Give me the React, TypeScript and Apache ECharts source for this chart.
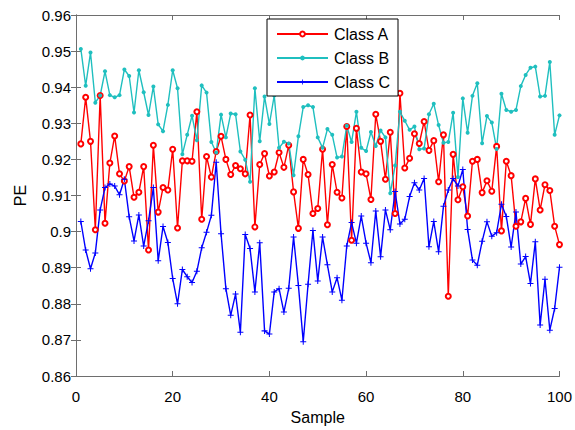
import React, { useEffect, useRef } from "react";
import * as echarts from "echarts";

const classA: number[] = [
  0.9243, 0.9372, 0.925, 0.9005, 0.9377, 0.9023, 0.919, 0.9265, 0.916, 0.914,
  0.918, 0.9095, 0.9109, 0.918, 0.8949, 0.9239, 0.9054, 0.9122, 0.9115, 0.9228,
  0.901, 0.9196, 0.9196, 0.9195, 0.9332, 0.9034, 0.9208, 0.9151, 0.9222, 0.9264,
  0.92, 0.9158, 0.9183, 0.9174, 0.916, 0.9323, 0.9013, 0.9186, 0.9216, 0.9154,
  0.9165, 0.9219, 0.9178, 0.9239, 0.911, 0.9009, 0.92, 0.9158, 0.905, 0.9064,
  0.9228, 0.9019, 0.9186, 0.9109, 0.9093, 0.9291, 0.8976, 0.9286, 0.9165, 0.916,
  0.9089, 0.9325, 0.925, 0.9145, 0.9275, 0.905, 0.9383, 0.9176, 0.9203, 0.9271,
  0.9244, 0.9305, 0.9225, 0.9252, 0.9138, 0.9268, 0.8821, 0.9214, 0.9088, 0.9124,
  0.9043, 0.9195, 0.92, 0.9108, 0.9141, 0.9112, 0.9236, 0.9002, 0.9195, 0.9155,
  0.9015, 0.9027, 0.9092, 0.902, 0.9146, 0.906, 0.913, 0.9114, 0.9015, 0.8964,
];

const classB: number[] = [
  0.9506, 0.9404, 0.9496, 0.9357, 0.9377, 0.9444, 0.9378, 0.9372, 0.9378, 0.9449,
  0.9431, 0.933, 0.9447, 0.9386, 0.9323, 0.9402, 0.9297, 0.9278, 0.9351, 0.9447,
  0.9397, 0.9214, 0.9268, 0.9321, 0.9253, 0.9405, 0.9385, 0.9248, 0.9219, 0.9324,
  0.9261, 0.9327, 0.9325, 0.9222, 0.9199, 0.9138, 0.9397, 0.925, 0.9374, 0.9298,
  0.9377, 0.9232, 0.9249, 0.9244, 0.9156, 0.9264, 0.9345, 0.935, 0.9345, 0.9261,
  0.9232, 0.9284, 0.9268, 0.9205, 0.9208, 0.9293, 0.9248, 0.9332, 0.9232, 0.9223,
  0.9276, 0.9237, 0.928, 0.9261, 0.9106, 0.9183, 0.9332, 0.9307, 0.9282, 0.9291,
  0.9228, 0.923, 0.9325, 0.9354, 0.9295, 0.9246, 0.9248, 0.9329, 0.9151, 0.9369,
  0.9274, 0.9376, 0.9411, 0.9245, 0.932, 0.9302, 0.9229, 0.9382, 0.9337, 0.9332,
  0.9337, 0.9403, 0.9434, 0.9454, 0.9457, 0.9374, 0.9376, 0.947, 0.9268, 0.9322,
];

const classC: number[] = [
  0.9028, 0.8949, 0.8897, 0.8941, 0.906, 0.9122, 0.9132, 0.9126, 0.9102, 0.9145,
  0.9041, 0.8974, 0.9046, 0.896, 0.903, 0.9122, 0.8919, 0.9014, 0.897, 0.887,
  0.88, 0.8895, 0.8875, 0.8859, 0.889, 0.8955, 0.8998, 0.9045, 0.9192, 0.8994,
  0.8842, 0.8768, 0.8827, 0.8721, 0.8992, 0.8953, 0.8833, 0.8969, 0.8725, 0.8716,
  0.8833, 0.8842, 0.8777, 0.8843, 0.8985, 0.8851, 0.8695, 0.8854, 0.9003, 0.8863,
  0.8985, 0.8908, 0.8833, 0.8872, 0.881, 0.896, 0.9025, 0.8968, 0.9043, 0.8968,
  0.8914, 0.9057, 0.893, 0.906, 0.9005, 0.9111, 0.9021, 0.9034, 0.9097, 0.9135,
  0.9115, 0.9147, 0.8958, 0.9028, 0.8944, 0.907, 0.9115, 0.9147, 0.9126, 0.9172,
  0.9006, 0.8921, 0.8907, 0.8973, 0.9027, 0.8987, 0.8997, 0.9076, 0.9042, 0.8957,
  0.9054, 0.891, 0.8931, 0.8856, 0.8972, 0.8741, 0.8868, 0.8727, 0.8787, 0.8901,
];

const seriesNames = ["Class A", "Class B", "Class C"];
const xLabel = "Sample";
const yLabel = "PE";

const FONT = "'Liberation Sans', Arial, Helvetica, sans-serif";
const AXIS_COLOR = "#6e6e6e";
const PLUS = "path://M2.5,0H3.5V2.5H6V3.5H3.5V6H2.5V3.5H0V2.5H2.5Z";

const toPairs = (arr: number[]) => arr.map((v, i) => [i + 1, v]);

export default function App() {
  const ref = useRef<HTMLDivElement>(null);
  useEffect(() => {
    if (!ref.current) return;
    const chart = echarts.init(ref.current, null, { renderer: "svg" });
    const axisCommon = {
      axisLine: { show: true, lineStyle: { color: AXIS_COLOR, width: 1 } },
      axisTick: { show: true, inside: true, length: 5, lineStyle: { color: AXIS_COLOR } },
      splitLine: { show: false },
    };
    chart.setOption({
      animation: false,
      backgroundColor: "#ffffff",
      textStyle: { fontFamily: FONT },
      grid: { left: 76, right: 11, top: 15, bottom: 46, containLabel: false },
      legend: {
        orient: "vertical",
        left: 267,
        top: 19,
        width: 131,
        padding: [7, 8, 6, 9],
        itemGap: 8,
        itemWidth: 51,
        itemHeight: 6,
        backgroundColor: "#ffffff",
        borderColor: "#000000",
        borderWidth: 1,
        borderRadius: 0,
        textStyle: { fontSize: 16, color: "#000", fontFamily: FONT, lineHeight: 16, padding: [0, 0, 0, 1] },
        data: seriesNames,
      },
      xAxis: [
        {
          type: "value",
          position: "bottom",
          min: 0,
          max: 100,
          interval: 20,
          name: xLabel,
          nameLocation: "middle",
          nameGap: 33,
          nameTextStyle: { fontSize: 16, color: "#000", fontFamily: FONT },
          axisLabel: { fontSize: 15, color: "#000", margin: 13, fontFamily: FONT },
          ...axisCommon,
        },
        {
          type: "value",
          position: "top",
          min: 0,
          max: 100,
          interval: 20,
          axisLabel: { show: false },
          ...axisCommon,
        },
      ],
      yAxis: [
        {
          type: "value",
          position: "left",
          min: 0.86,
          max: 0.96,
          interval: 0.01,
          name: yLabel,
          nameLocation: "middle",
          nameGap: 48,
          nameTextStyle: { fontSize: 16, color: "#000", fontFamily: FONT },
          axisLabel: {
            fontSize: 15,
            color: "#000",
            margin: 5,
            fontFamily: FONT,
            formatter: (v: number) => String(parseFloat(v.toFixed(2))),
          },
          ...axisCommon,
        },
        {
          type: "value",
          position: "right",
          min: 0.86,
          max: 0.96,
          interval: 0.01,
          axisLabel: { show: false },
          ...axisCommon,
        },
      ],
      series: [
        {
          name: seriesNames[0],
          type: "line",
          data: toPairs(classA),
          symbol: "emptyCircle",
          symbolSize: 5,
          showAllSymbol: true,
          lineStyle: { color: "#ff0000", width: 1.4 },
          itemStyle: { color: "#ff0000", borderColor: "#ff0000", borderWidth: 1.3 },
        },
        {
          name: seriesNames[1],
          type: "line",
          data: toPairs(classB),
          symbol: "circle",
          symbolSize: 4,
          showAllSymbol: true,
          lineStyle: { color: "#1fbfbf", width: 1.4 },
          itemStyle: { color: "#1fbfbf" },
        },
        {
          name: seriesNames[2],
          type: "line",
          data: toPairs(classC),
          symbol: PLUS,
          symbolSize: 6,
          showAllSymbol: true,
          lineStyle: { color: "#0000ff", width: 1.4 },
          itemStyle: { color: "#0000ff" },
        },
      ],
    });
    return () => chart.dispose();
  }, []);
  return (
    <div
      ref={ref}
      style={{ position: "fixed", left: 0, top: 0, width: 575, height: 430, background: "#fff" }}
    />
  );
}
